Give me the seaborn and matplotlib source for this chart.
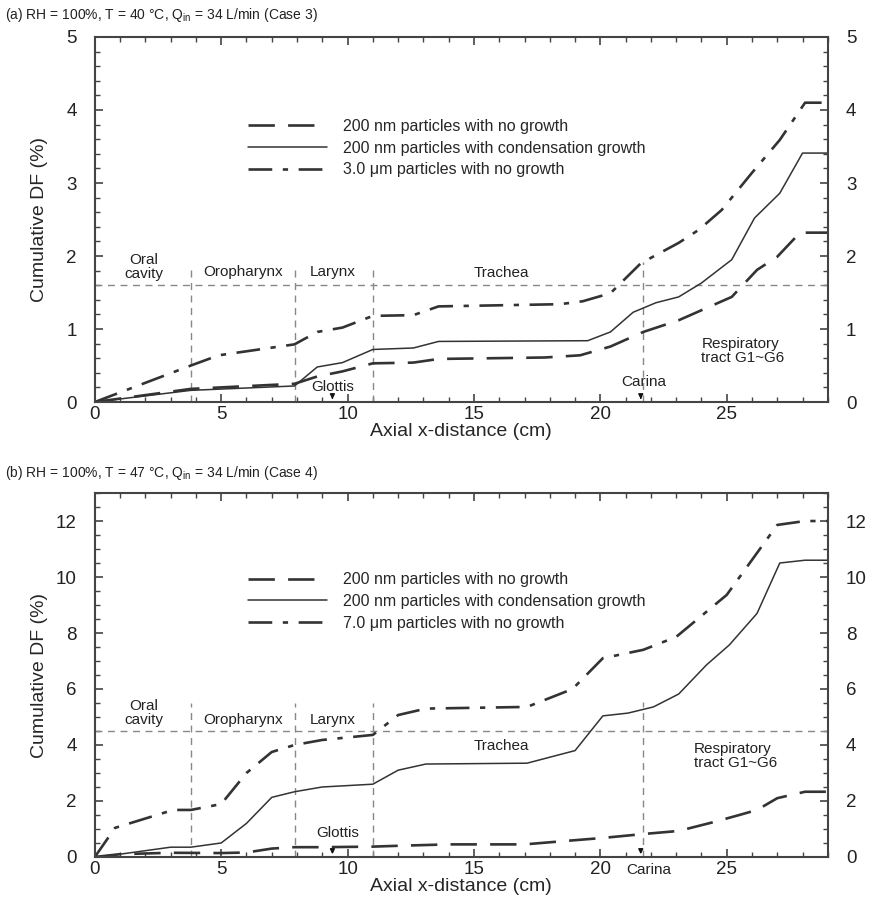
import seaborn as sns
import pandas as pd
import numpy as np
from matplotlib import pyplot as plt
from matplotlib.ticker import MultipleLocator

sns.set_style('ticks')
plt.rcParams['font.family'] = ['Liberation Sans', 'DejaVu Sans']
plt.rcParams['mathtext.fontset'] = 'custom'
plt.rcParams['mathtext.rm'] = 'Liberation Sans'

# case 3 (a)
a_nogrow_x = [0, 3.8, 7.9, 8.8, 9.8, 11.0, 12.6, 13.6, 17.8, 19.2, 20.4, 21.7, 23.1, 25.2, 26.2, 27.0, 27.9, 29.0]
a_nogrow_y = [0, 0.18, 0.25, 0.35, 0.42, 0.53, 0.54, 0.59, 0.61, 0.64, 0.76, 0.96, 1.12, 1.44, 1.81, 1.99, 2.32, 2.32]
a_growth_x = [0, 3.8, 7.9, 8.8, 9.8, 11.0, 12.6, 13.6, 19.5, 20.4, 21.3, 22.2, 23.1, 24.0, 25.2, 26.1, 27.1, 28.0, 29.0]
a_growth_y = [0, 0.16, 0.22, 0.48, 0.54, 0.72, 0.74, 0.83, 0.84, 0.96, 1.23, 1.36, 1.44, 1.63, 1.95, 2.52, 2.86, 3.41, 3.41]
a_large_x = [0, 3.8, 4.9, 7.9, 8.8, 9.8, 11.0, 12.6, 13.6, 18.4, 19.3, 20.4, 21.6, 23.1, 23.9, 24.8, 26.0, 27.1, 28.1, 29.0]
a_large_y = [0, 0.5, 0.64, 0.79, 0.96, 1.02, 1.18, 1.19, 1.31, 1.34, 1.38, 1.49, 1.90, 2.18, 2.36, 2.63, 3.14, 3.59, 4.10, 4.10]

# case 4 (b)
b_nogrow_x = [0, 1.0, 3.0, 5.0, 6.0, 7.0, 7.9, 9.0, 11.0, 12.0, 14.0, 17.0, 19.0, 20.1, 21.7, 23.1, 24.5, 25.5, 26.2, 27.0, 28.1, 29.0]
b_nogrow_y = [0, 0.1, 0.15, 0.14, 0.16, 0.3, 0.35, 0.35, 0.37, 0.4, 0.45, 0.45, 0.6, 0.68, 0.82, 0.93, 1.25, 1.5, 1.68, 2.1, 2.33, 2.33]
b_growth_x = [0, 1.0, 3.0, 3.8, 5.0, 6.0, 7.0, 7.9, 9.0, 11.0, 12.0, 13.1, 17.1, 19.0, 20.1, 21.1, 22.1, 23.1, 24.2, 25.1, 26.2, 27.1, 28.1, 29.0]
b_growth_y = [0, 0.1, 0.35, 0.35, 0.5, 1.2, 2.13, 2.33, 2.5, 2.6, 3.1, 3.32, 3.35, 3.8, 5.04, 5.14, 5.36, 5.82, 6.86, 7.57, 8.7, 10.5, 10.6, 10.6]
b_large_x = [0, 0.8, 3.1, 3.8, 5.0, 6.0, 7.0, 7.9, 9.0, 11.0, 12.0, 13.1, 17.1, 18.9, 20.1, 21.7, 23.0, 25.0, 27.0, 28.1, 29.0]
b_large_y = [0, 1.04, 1.68, 1.68, 1.89, 3.0, 3.75, 4.0, 4.18, 4.36, 5.07, 5.3, 5.36, 6.0, 7.1, 7.4, 7.86, 9.36, 11.86, 12.0, 12.0]

regions = [3.8, 7.9, 11.0]
carina = 21.7
glottis = 9.4
labels_a = ['200 nm particles with no growth', '200 nm particles with condensation growth',
            '3.0 \u03bcm particles with no growth']
labels_b = ['200 nm particles with no growth', '200 nm particles with condensation growth',
            '7.0 \u03bcm particles with no growth']

col = '#333333'
grid_col = '#888888'

fig = plt.figure(figsize=(8.7, 9), dpi=100)
ax1 = fig.add_axes([0.109, 0.5533, 0.8425, 0.4056])
ax2 = fig.add_axes([0.109, 0.0478, 0.8425, 0.4044])


def draw(ax, series, labels, ymax, ymajor, yminor, hline, vtop, ctop, leg_y):
    styles = [dict(linestyle=(0, (10, 5)), linewidth=1.9),
              dict(linestyle='-', linewidth=1.1),
              dict(linestyle=(0, (9, 4, 2, 4)), linewidth=1.9)]
    for (xs, ys), lab, st in zip(series, labels, styles):
        sns.lineplot(x=xs, y=ys, ax=ax, color=col, label=lab, sort=False, **st)
    ax.axhline(hline, color=grid_col, lw=1, ls=(0, (5, 4)), zorder=1)
    for r in regions:
        ax.plot([r, r], [0, vtop], color=grid_col, lw=1, ls=(0, (5, 4)), zorder=1)
    ax.plot([carina, carina], [0, ctop], color=grid_col, lw=1, ls=(0, (5, 4)), zorder=1)
    ax.set_xlim(0, 29)
    ax.set_ylim(0, ymax)
    ax.xaxis.set_major_locator(MultipleLocator(5))
    ax.xaxis.set_minor_locator(MultipleLocator(1))
    ax.yaxis.set_major_locator(MultipleLocator(ymajor))
    ax.yaxis.set_minor_locator(MultipleLocator(yminor))
    ax.tick_params(which='both', direction='in', top=True, right=True, labelright=True,
                   color='#444444', labelsize=13.5, labelcolor='#222222')
    ax.tick_params(which='major', length=6, width=1.2)
    ax.tick_params(which='minor', length=3.5, width=1)
    ax.tick_params(axis='y', which='major', pad=13)
    ax.tick_params(axis='x', which='major', pad=3)
    for sp in ax.spines.values():
        sp.set_color('#444444')
        sp.set_linewidth(1.5)
    ax.set_xlabel('Axial x-distance (cm)', fontsize=14, labelpad=0)
    ax.set_ylabel('Cumulative DF (%)', fontsize=14)
    ax.yaxis.set_label_coords(-0.064, 0.5)
    ax.legend(loc='upper left', bbox_to_anchor=(0.19, leg_y), frameon=False, fontsize=11.5,
              handlelength=4.9, labelspacing=0.42, handletextpad=1.0)


draw(ax1, [(a_nogrow_x, a_nogrow_y), (a_growth_x, a_growth_y), (a_large_x, a_large_y)],
     labels_a, 5, 1, 0.2, 1.6, 1.85, 1.92, 0.815)
draw(ax2, [(b_nogrow_x, b_nogrow_y), (b_growth_x, b_growth_y), (b_large_x, b_large_y)],
     labels_b, 13, 2, 0.5, 4.5, 5.5, 5.55, 0.822)
ax2.set_yticks([0, 2, 4, 6, 8, 10, 12])

tk = dict(fontsize=11, color='#222222', ha='center', va='center', linespacing=0.95)
ax1.text(1.95, 1.85, 'Oral\ncavity', **tk)
ax1.text(5.85, 1.78, 'Oropharynx', **tk)
ax1.text(9.4, 1.78, 'Larynx', **tk)
ax1.text(16.1, 1.77, 'Trachea', **tk)
ax1.text(24.0, 0.7, 'Respiratory\ntract G1~G6', fontsize=11, color='#222222', ha='left', va='center', linespacing=0.95)
ax1.text(glottis, 0.21, 'Glottis', **tk)
ax1.text(carina, 0.27, 'Carina', **tk)
arr = dict(arrowstyle='-|>', color='#111111', lw=1, mutation_scale=7)
ax1.annotate('', xy=(glottis, 0), xytext=(glottis, 0.1), arrowprops=arr)
ax1.annotate('', xy=(carina - 0.1, 0), xytext=(carina - 0.1, 0.1), arrowprops=arr)

ax2.text(1.95, 5.15, 'Oral\ncavity', **tk)
ax2.text(5.85, 4.9, 'Oropharynx', **tk)
ax2.text(9.4, 4.9, 'Larynx', **tk)
ax2.text(16.1, 3.96, 'Trachea', **tk)
ax2.text(23.7, 3.6, 'Respiratory\ntract G1~G6', fontsize=11, color='#222222', ha='left', va='center', linespacing=0.95)
ax2.text(9.6, 0.86, 'Glottis', **tk)
ax2.text(21.9, -0.45, 'Carina', **tk)
ax2.annotate('', xy=(glottis, 0), xytext=(glottis, 0.35), arrowprops=arr)
ax2.annotate('', xy=(carina - 0.1, 0), xytext=(carina - 0.1, 0.35), arrowprops=arr)

fig.text(0.006, 0.983, r'(a) RH = 100%, T = 40 °C, Q$_\mathregular{in}$ = 34 L/min (Case 3)',
         fontsize=10, va='center', color='#222222')
fig.text(0.006, 0.474, r'(b) RH = 100%, T = 47 °C, Q$_\mathregular{in}$ = 34 L/min (Case 4)',
         fontsize=10, va='center', color='#222222')

fig.savefig('out.png', dpi=100)
